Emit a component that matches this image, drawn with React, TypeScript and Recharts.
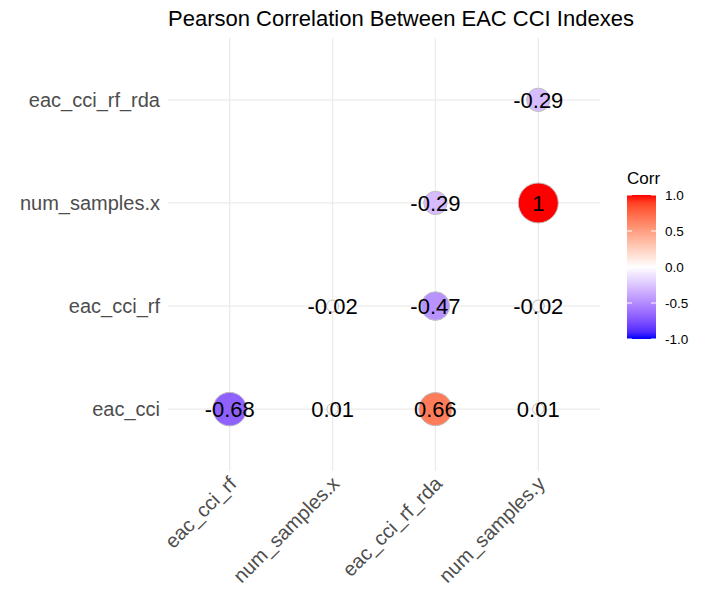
import { CartesianGrid, LabelList, Scatter, ScatterChart, XAxis, YAxis, ZAxis } from 'recharts'

const xLabels = ['eac_cci_rf', 'num_samples.x', 'eac_cci_rf_rda', 'num_samples.y']
const yLabels = ['eac_cci', 'eac_cci_rf', 'num_samples.x', 'eac_cci_rf_rda']

// cell positions (1-based index into xLabels / yLabels) and their correlation
const cellX = [1, 2, 3, 4, 2, 3, 4, 3, 4, 4]
const cellY = [1, 1, 1, 1, 2, 2, 2, 3, 3, 4]
const corrValues = [-0.68, 0.01, 0.66, 0.01, -0.02, -0.47, -0.02, -0.29, 1, -0.29]

const axisTicks = [1, 2, 3, 4]
const legendTicks = [1, 0.5, 0, -0.5, -1]

const FONT = '"Liberation Sans", Arial, Helvetica, sans-serif'
const DOMAIN: [number, number] = [0.4, 4.6]

// --- Lab colour interpolation (like scales::div_gradient_pal) ---
type Lab = [number, number, number]

function toLin(c: number) {
  c /= 255
  return c <= 0.04045 ? c / 12.92 : ((c + 0.055) / 1.055) ** 2.4
}
function fromLin(c: number) {
  const v = c <= 0.0031308 ? 12.92 * c : 1.055 * c ** (1 / 2.4) - 0.055
  return Math.round(Math.min(1, Math.max(0, v)) * 255)
}
function rgbToLab(r: number, g: number, b: number): Lab {
  const R = toLin(r), G = toLin(g), B = toLin(b)
  const X = (0.4124 * R + 0.3576 * G + 0.1805 * B) / 0.95047
  const Y = 0.2126 * R + 0.7152 * G + 0.0722 * B
  const Z = (0.0193 * R + 0.1192 * G + 0.9505 * B) / 1.08883
  const f = (t: number) => (t > 0.008856 ? Math.cbrt(t) : 7.787 * t + 16 / 116)
  const fx = f(X), fy = f(Y), fz = f(Z)
  return [116 * fy - 16, 500 * (fx - fy), 200 * (fy - fz)]
}
function labToHex([L, a, b]: Lab) {
  const fy = (L + 16) / 116
  const fx = fy + a / 500
  const fz = fy - b / 200
  const inv = (t: number) => (t ** 3 > 0.008856 ? t ** 3 : (t - 16 / 116) / 7.787)
  const X = inv(fx) * 0.95047, Y = inv(fy), Z = inv(fz) * 1.08883
  const R = 3.2406 * X - 1.5372 * Y - 0.4986 * Z
  const G = -0.9689 * X + 1.8758 * Y + 0.0415 * Z
  const B = 0.0557 * X - 0.204 * Y + 1.057 * Z
  return '#' + [R, G, B].map((c) => fromLin(c).toString(16).padStart(2, '0')).join('')
}

const WHITE = rgbToLab(255, 255, 255)
const RED = rgbToLab(255, 0, 0)
const BLUE = rgbToLab(0, 0, 255)

function corrColor(v: number) {
  const end = v >= 0 ? RED : BLUE
  const t = Math.min(1, Math.abs(v))
  return labToHex([0, 1, 2].map((i) => WHITE[i] + (end[i] - WHITE[i]) * t) as Lab)
}

const points = corrValues.map((corr, i) => ({
  x: cellX[i],
  y: cellY[i],
  size: Math.abs(corr),
  corr,
}))

function CircleShape(props: any) {
  const r = props.width ? props.width / 2 : Math.sqrt((props.size ?? 0) / Math.PI)
  return (
    <circle
      cx={props.cx}
      cy={props.cy}
      r={r}
      fill={corrColor(props.payload.corr)}
      stroke="#bfbfbf"
      strokeWidth={1}
    />
  )
}

function XTick({ x, y, payload }: any) {
  return (
    <text
      transform={`translate(${x + 8},${y + 12}) rotate(-45)`}
      textAnchor="end"
      fill="#4d4d4d"
      fontSize={20}
      fontFamily={FONT}
    >
      {xLabels[payload.value - 1]}
    </text>
  )
}

// grid only at the category positions, not at the panel edges
const gridX = ({ offset }: any) =>
  axisTicks.map((v) => offset.left + ((v - DOMAIN[0]) / (DOMAIN[1] - DOMAIN[0])) * offset.width)
const gridY = ({ offset }: any) =>
  axisTicks.map((v) => offset.top + ((DOMAIN[1] - v) / (DOMAIN[1] - DOMAIN[0])) * offset.height)

function Legend() {
  const top = 195
  const bottom = 339
  const left = 627
  const w = 29
  const yOf = (v: number) => top + ((1 - v) / 2) * (bottom - top)
  const stops = Array.from({ length: 21 }, (_, i) => 1 - i / 10)
  return (
    <svg
      width={720}
      height={600}
      style={{ position: 'absolute', left: 0, top: 0, pointerEvents: 'none' }}
      fontFamily={FONT}
    >
      <defs>
        <linearGradient id="corrbar" x1="0" y1="0" x2="0" y2="1">
          {stops.map((v, i) => (
            <stop key={i} offset={`${(i / 20) * 100}%`} stopColor={corrColor(v)} />
          ))}
        </linearGradient>
      </defs>
      <text x={168} y={26} fontSize={22} fill="#000">
        Pearson Correlation Between EAC CCI Indexes
      </text>
      <text x={627} y={184} fontSize={17} fill="#000">
        Corr
      </text>
      <rect x={left} y={top} width={w} height={bottom - top} fill="url(#corrbar)" />
      {legendTicks.map((v) => (
        <g key={v}>
          <line x1={left} x2={left + 5} y1={yOf(v)} y2={yOf(v)} stroke="#fff" strokeWidth={1} />
          <line x1={left + w - 5} x2={left + w} y1={yOf(v)} y2={yOf(v)} stroke="#fff" strokeWidth={1} />
          <text x={665} y={yOf(v)} dy="0.36em" fontSize={13.5} fill="#000">
            {v.toFixed(1)}
          </text>
        </g>
      ))}
    </svg>
  )
}

export default function App() {
  return (
    <div style={{ position: 'absolute', left: 0, top: 0, width: 720, height: 600, background: '#fff' }}>
      <ScatterChart width={720} height={600} margin={{ top: 38, right: 120, bottom: 0, left: 0 }}>
        <CartesianGrid
          stroke="#ebebeb"
          strokeWidth={1.3}
          verticalCoordinatesGenerator={gridX}
          horizontalCoordinatesGenerator={gridY}
        />
        <XAxis
          type="number"
          dataKey="x"
          domain={DOMAIN}
          ticks={axisTicks}
          height={129}
          axisLine={false}
          tickLine={false}
          tickSize={0}
          tick={<XTick />}
          interval={0}
        />
        <YAxis
          type="number"
          dataKey="y"
          domain={DOMAIN}
          ticks={axisTicks}
          width={168}
          axisLine={false}
          tickLine={false}
          tickSize={0}
          tickMargin={8}
          interval={0}
          tick={{ fill: '#4d4d4d', fontSize: 20, fontFamily: FONT }}
          tickFormatter={(v: number) => yLabels[v - 1]}
        />
        <ZAxis type="number" dataKey="size" domain={[0, 1]} range={[90, 1257]} />
        <Scatter data={points} shape={<CircleShape />} isAnimationActive={false}>
          <LabelList
            dataKey="corr"
            position="center"
            fill="#000"
            fontSize={22}
            fontFamily={FONT}
          />
        </Scatter>
      </ScatterChart>
      <Legend />
    </div>
  )
}
